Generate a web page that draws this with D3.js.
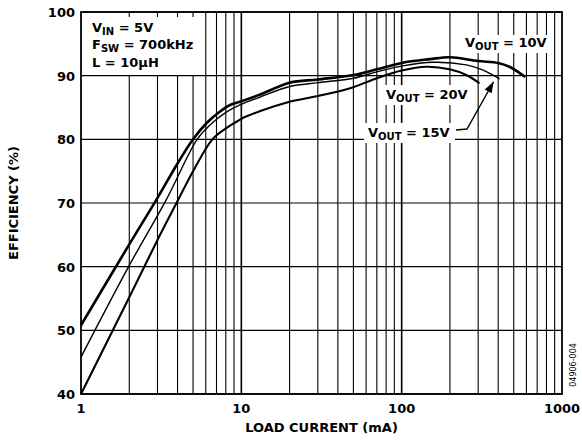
<!DOCTYPE html>
<html>
<head>
<meta charset="utf-8">
<script src="https://cdn.jsdelivr.net/npm/d3@7"></script>
<style>
  body { margin: 0; background: #fff; }
  text { font-family: "DejaVu Sans", sans-serif; font-weight: bold; }
</style>
</head>
<body>
<div class="canvas"></div>
<script>
// load current (mA) vs efficiency (%)
const v10 = [[1,50.8],[2,63.5],[3,70.8],[4,76.2],[5,80],[6.1,82.6],[7.3,84.3],[8.5,85.4],[9.8,85.9],[13,87],[20,88.9],[30,89.4],[50,90.1],[70,91],[100,92],[150,92.6],[200,92.9],[300,92.3],[400,92],[470,91.4],[590,89.8]]
const v15 = [[1,45.8],[2,60.2],[3.4,70.5],[5.3,80],[6.4,82.3],[8.1,84.3],[9.8,85.4],[13,86.6],[20,88.3],[30,88.9],[50,89.6],[70,90.6],[100,91.5],[156,92.1],[253,91.7],[320,90.9],[408,89.5]]
const v20 = [[1,40],[2,55.2],[3,64.2],[4,70.3],[5,75],[6.6,80],[8.1,81.8],[9.4,82.8],[10.5,83.5],[13,84.4],[20,85.9],[30,86.8],[50,88.2],[70,89.6],[100,90.8],[143,91.4],[199,91],[253,90.1],[306,88.8]]
const xTicks = [1, 10, 100, 1000]
const yTicks = [40, 50, 60, 70, 80, 90, 100]

const margin = {top: 12, right: 20, bottom: 49, left: 81}
const width = 582, height = 443
const graphWidth = width - margin.left - margin.right
const graphHeight = height - margin.top - margin.bottom

const svg = d3.select('.canvas')
    .append('svg')
    .attr('width', width)
    .attr('height', height)

const graph = svg.append('g')
    .attr('transform', `translate(${margin.left}, ${margin.top})`)

const x = d3.scaleLog().domain([1, 1000]).range([0, graphWidth])
const y = d3.scaleLinear().domain([40, 100]).range([graphHeight, 0])

// grid
const minor = []
for (let dec = 1; dec < 1000; dec *= 10) {
    for (let k = 1; k < 10; k++) minor.push(dec * k)
}
graph.selectAll('.vgrid')
    .data(minor.filter(d => d > 1))
    .enter().append('line')
    .attr('x1', d => x(d)).attr('x2', d => x(d))
    .attr('y1', 0).attr('y2', graphHeight)
    .attr('stroke', '#000').attr('stroke-width', d => xTicks.includes(d) ? 1.6 : 1.1)

graph.selectAll('.hgrid')
    .data(yTicks)
    .enter().append('line')
    .attr('x1', 0).attr('x2', graphWidth)
    .attr('y1', d => y(d)).attr('y2', d => y(d))
    .attr('stroke', '#000').attr('stroke-width', 1.1)

// white label backgrounds that break the grid
const boxes = [
    [1, 5, 123, 58],
    [381, 23, 89, 18],
    [302, 73, 89, 20],
    [283, 111, 91, 20]
]
graph.selectAll('.bg')
    .data(boxes)
    .enter().append('rect')
    .attr('x', d => d[0]).attr('y', d => d[1])
    .attr('width', d => d[2]).attr('height', d => d[3])
    .attr('fill', '#fff')

graph.append('rect')
    .attr('width', graphWidth).attr('height', graphHeight)
    .attr('fill', 'none').attr('stroke', '#000').attr('stroke-width', 1.8)

// curves
const line = d3.line()
    .x(d => x(d[0]))
    .y(d => y(d[1]))
    .curve(d3.curveCatmullRom.alpha(0.5))

const series = [
    {data: v10, w: 2.6},
    {data: v15, w: 1.4},
    {data: v20, w: 2.1}
]
graph.selectAll('.curve')
    .data(series)
    .enter().append('path')
    .attr('d', d => line(d.data))
    .attr('fill', 'none')
    .attr('stroke', '#000')
    .attr('stroke-width', d => d.w)
    .attr('stroke-linejoin', 'round')

// labels with subscripts
const sub = (g, px, py, main, s, rest) => {
    const t = g.append('text')
        .attr('x', px).attr('y', py)
        .attr('font-size', 13)
    t.append('tspan').text(main)
    t.append('tspan').attr('dy', 3).attr('font-size', 10).text(s)
    t.append('tspan').attr('dy', -3).text(rest)
}
sub(graph, 11, 20, 'V', 'IN', ' = 5V')
sub(graph, 11, 37, 'F', 'SW', ' = 700kHz')
graph.append('text').attr('x', 11).attr('y', 55)
    .attr('font-size', 13)
    .text('L = 10\u00b5H')

sub(graph, 384, 35, 'V', 'OUT', ' = 10V')
sub(graph, 305, 87, 'V', 'OUT', ' = 20V')
sub(graph, 287, 125, 'V', 'OUT', ' = 15V')

// leader arrow for 15V
const tip = [x(408) - 6, y(89.2) + 1]
graph.append('path')
    .attr('d', `M${375},${118} L${386},${117} L${tip[0]},${tip[1]}`)
    .attr('fill', 'none').attr('stroke', '#000').attr('stroke-width', 1.4)
const ang = Math.atan2(tip[1] - 117, tip[0] - 386)
const ah = 11, aw = 4
const bx = tip[0] - ah * Math.cos(ang), by = tip[1] - ah * Math.sin(ang)
graph.append('path')
    .attr('d', `M${tip[0]},${tip[1]} L${bx + aw * Math.sin(ang)},${by - aw * Math.cos(ang)} L${bx - aw * Math.sin(ang)},${by + aw * Math.cos(ang)} Z`)
    .attr('fill', '#000')

// axes tick labels
graph.selectAll('.yt')
    .data(yTicks)
    .enter().append('text')
    .attr('x', -6).attr('y', d => y(d) + 5)
    .attr('text-anchor', 'end')
    .attr('font-size', 13)
    .text(d => d)

graph.selectAll('.xt')
    .data(xTicks)
    .enter().append('text')
    .attr('x', d => x(d)).attr('y', graphHeight + 19)
    .attr('text-anchor', 'middle')
    .attr('font-size', 13)
    .text(d => d)

graph.append('text')
    .attr('x', (x(1) + x(1000)) / 2).attr('y', graphHeight + 38)
    .attr('text-anchor', 'middle')
    .attr('font-size', 13)
    .text('LOAD CURRENT (mA)')

svg.append('text')
    .attr('transform', `translate(18, ${margin.top + graphHeight / 2}) rotate(-90)`)
    .attr('text-anchor', 'middle')
    .attr('font-size', 13)
    .text('EFFICIENCY (%)')

svg.append('text')
    .attr('transform', `translate(576, 365) rotate(-90)`)
    .attr('text-anchor', 'middle')
    .attr('font-size', 8)
    .style('font-weight', 'normal')
    .text('04906-004')
</script>
</body>
</html>
